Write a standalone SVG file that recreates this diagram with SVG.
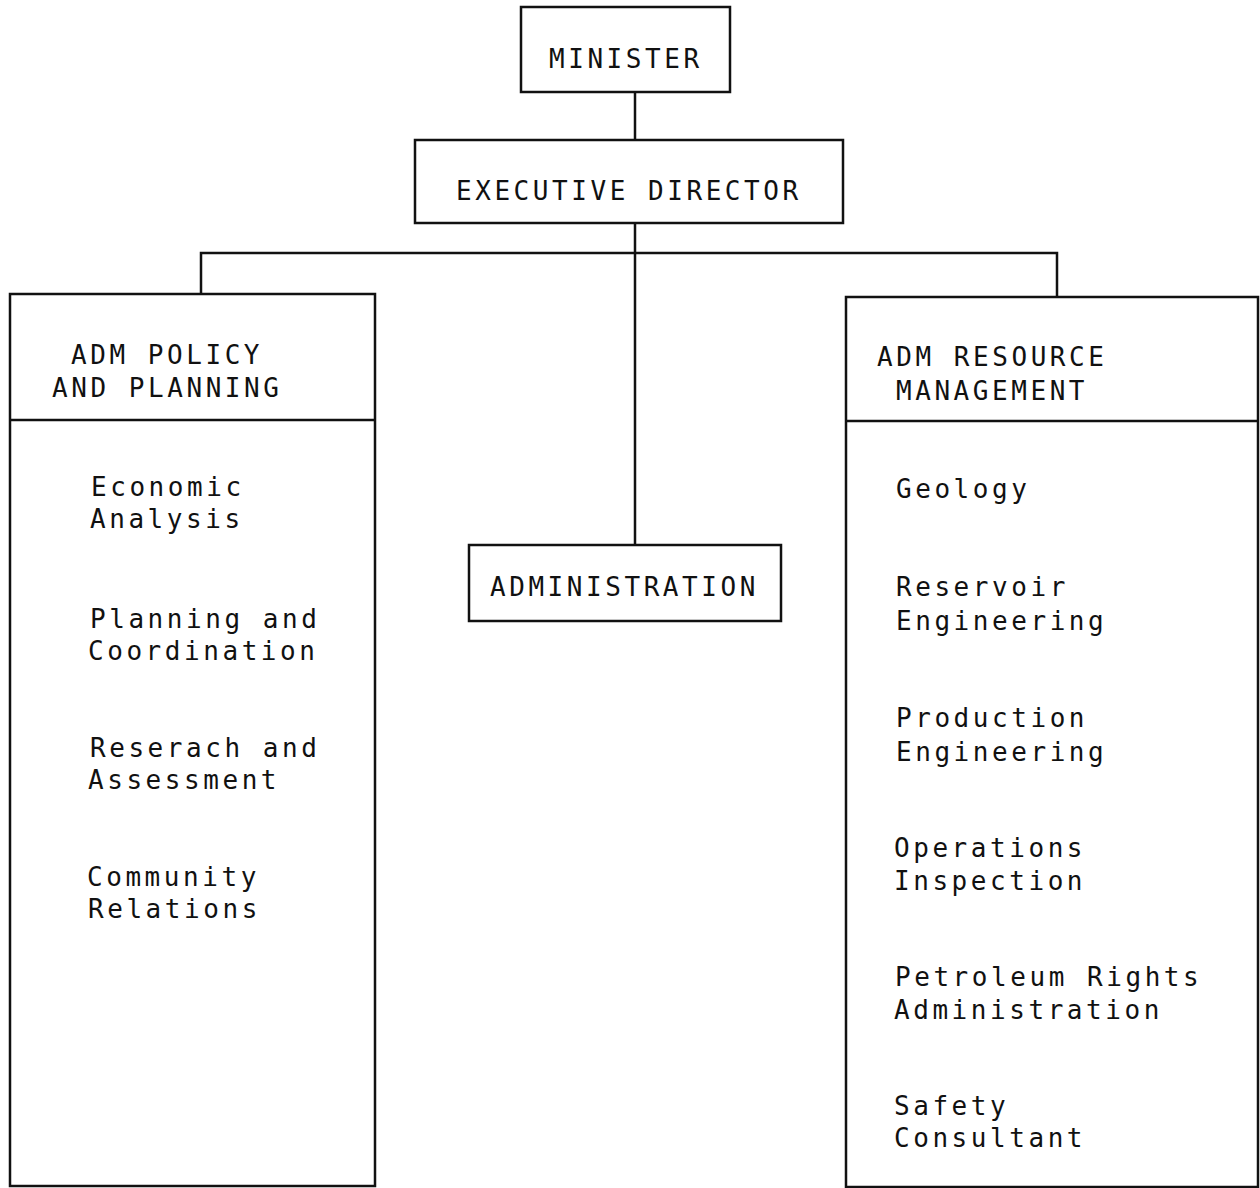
<svg xmlns="http://www.w3.org/2000/svg" width="1260" height="1188" viewBox="0 0 1260 1188">
<style>
.box{fill:none;stroke:#111;stroke-width:2.5}
.ln{fill:none;stroke:#111;stroke-width:2.5}
text{font-family:"DejaVu Sans Mono","Liberation Mono",monospace;font-size:26px;letter-spacing:3.55px;fill:#111}
</style>
<rect width="1260" height="1188" fill="#fff"/>
<g id="connectors">
<path class="ln" d="M635 92V140"/>
<path class="ln" d="M635 223V545"/>
<path class="ln" d="M201 295V253H1057V297"/>
</g>
<g id="minister">
<rect class="box" x="521" y="7" width="209" height="85"/>
<text x="549" y="68">MINISTER</text>
</g>
<g id="executive-director">
<rect class="box" x="415" y="140" width="428" height="83"/>
<text x="456" y="200">EXECUTIVE DIRECTOR</text>
</g>
<g id="administration">
<rect class="box" x="469" y="545" width="312" height="76"/>
<text x="490" y="596">ADMINISTRATION</text>
</g>
<g id="adm-policy">
<rect class="box" x="10" y="294" width="365" height="892"/>
<path class="ln" d="M10 420H375"/>
<text x="71" y="364">ADM POLICY</text>
<text x="52" y="397">AND PLANNING</text>
<text x="91" y="496">Economic</text>
<text x="90" y="528">Analysis</text>
<text x="90" y="628">Planning and</text>
<text x="88" y="660">Coordination</text>
<text x="90" y="757">Reserach and</text>
<text x="88" y="789">Assessment</text>
<text x="87" y="886">Community</text>
<text x="88" y="918">Relations</text>
</g>
<g id="adm-resource">
<rect class="box" x="846" y="297" width="412" height="890"/>
<path class="ln" d="M846 421H1258"/>
<text x="877" y="366">ADM RESOURCE</text>
<text x="896" y="400">MANAGEMENT</text>
<text x="896" y="498">Geology</text>
<text x="896" y="596">Reservoir</text>
<text x="896" y="630">Engineering</text>
<text x="896" y="727">Production</text>
<text x="896" y="761">Engineering</text>
<text x="894" y="857">Operations</text>
<text x="894" y="890">Inspection</text>
<text x="895" y="986">Petroleum Rights</text>
<text x="894" y="1019">Administration</text>
<text x="894" y="1115">Safety</text>
<text x="894" y="1147">Consultant</text>
</g>
</svg>
